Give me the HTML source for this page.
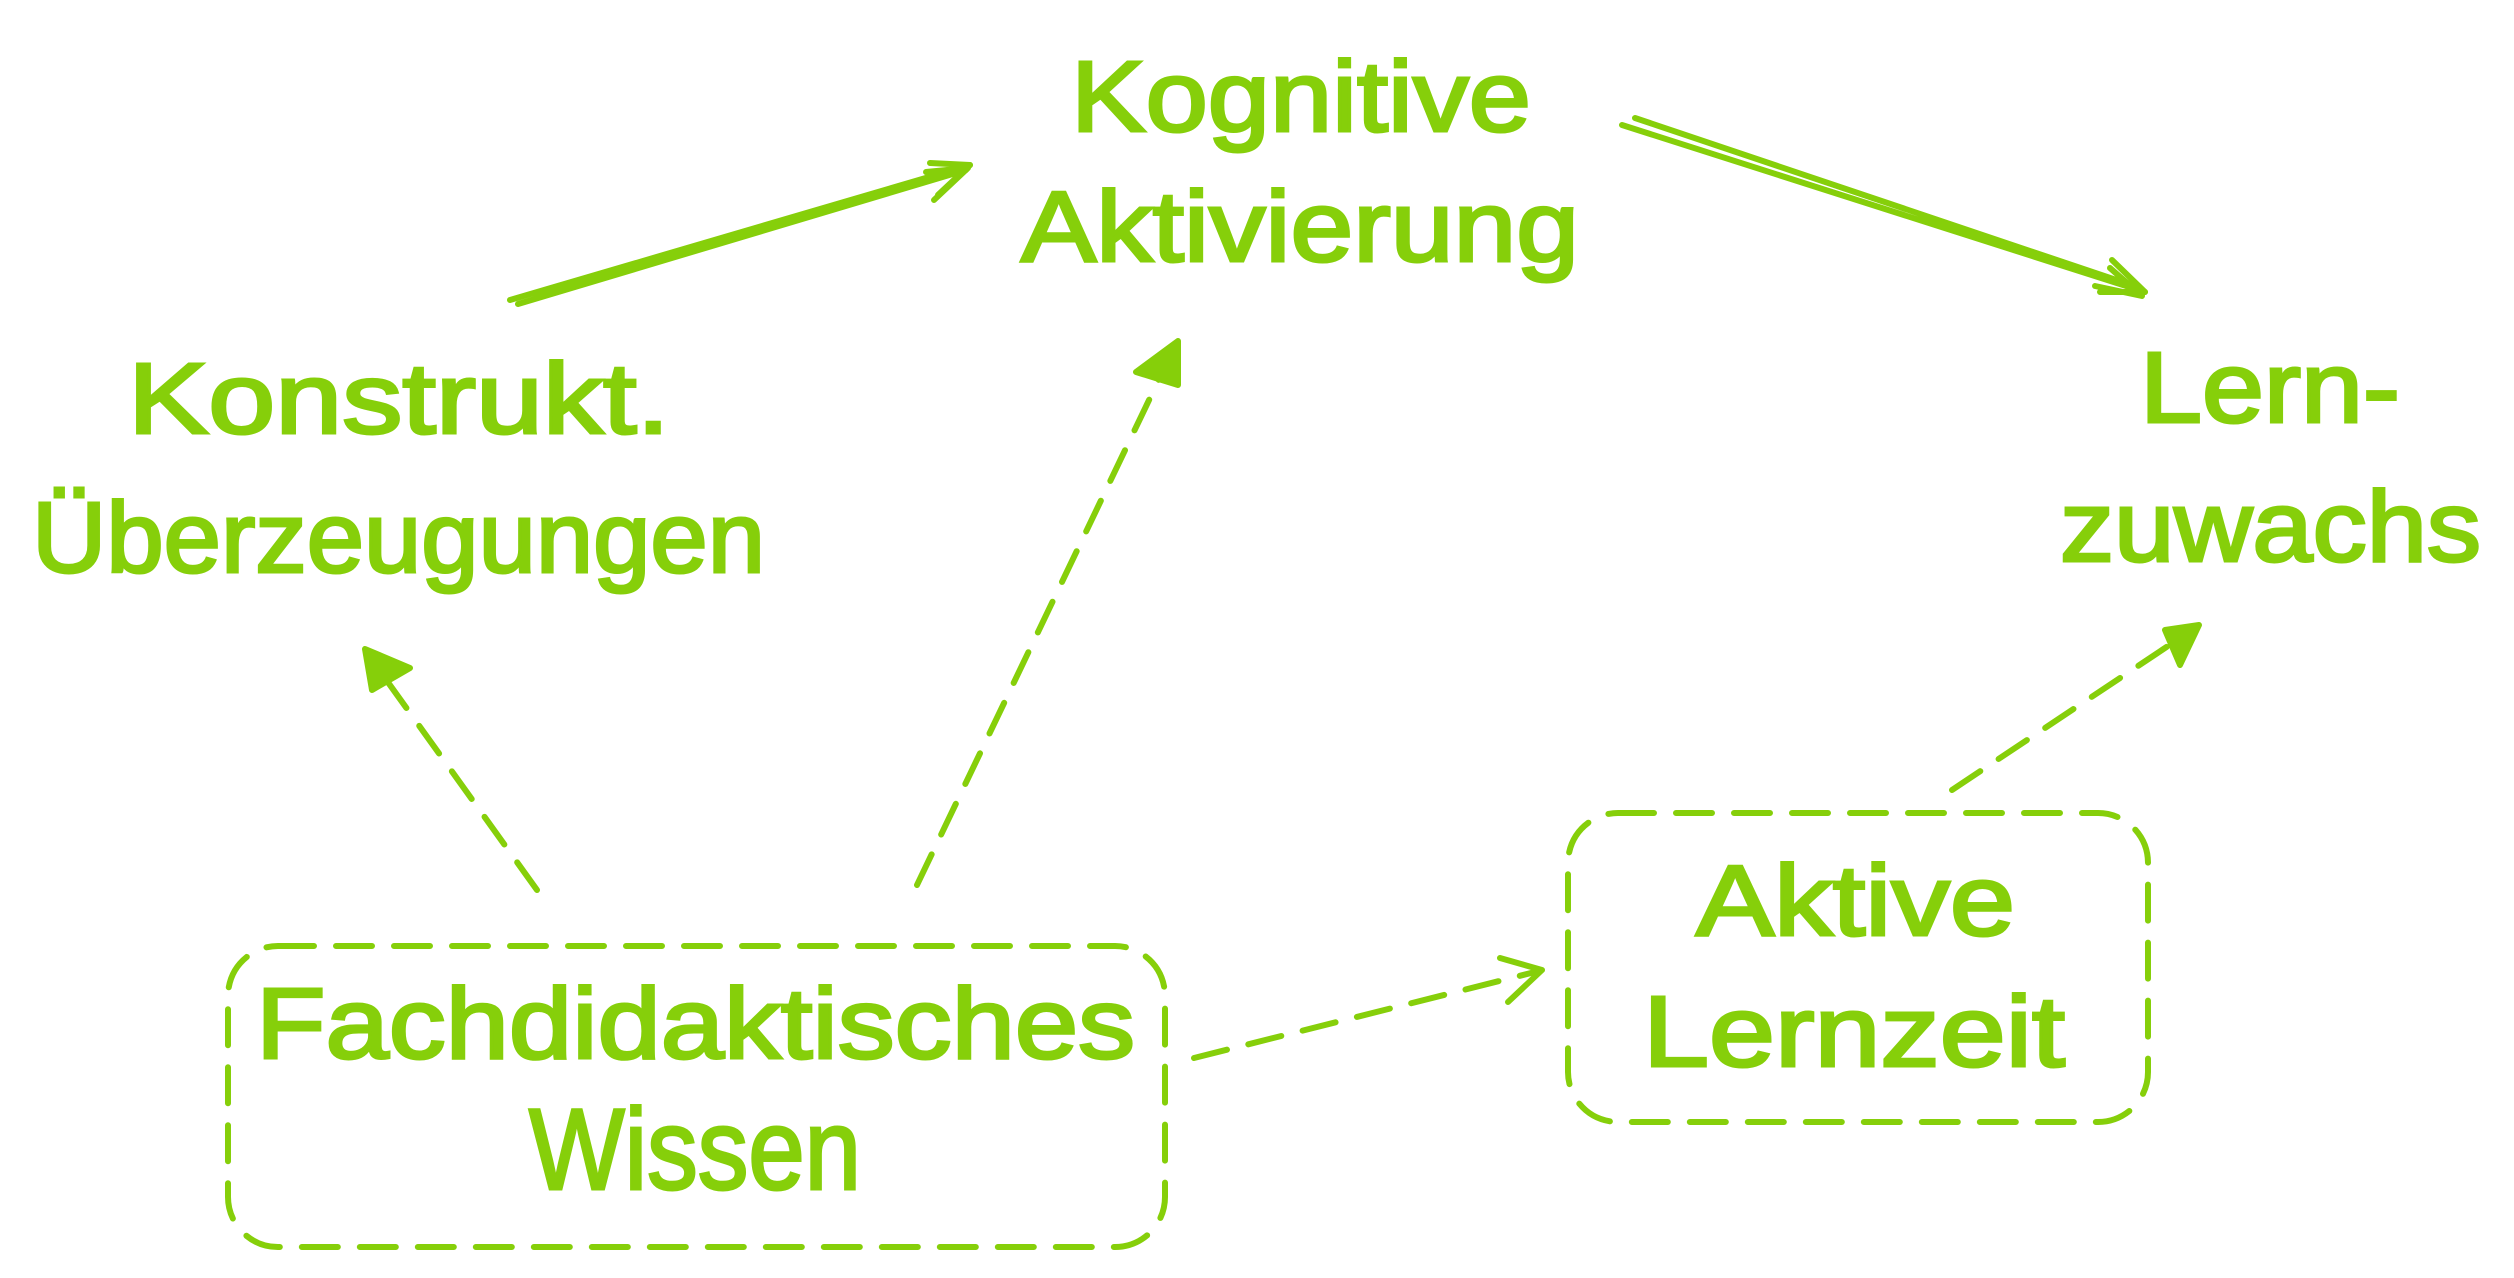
<!DOCTYPE html>
<html><head><meta charset="utf-8"><style>
html,body{margin:0;padding:0;background:#fff;}
svg{display:block;}
text{font-family:"Liberation Sans",sans-serif;fill:#86cf0a;stroke:#86cf0a;stroke-width:3px;font-size:100px;}
</style></head><body>
<svg width="2514" height="1278" viewBox="0 0 2514 1278" xmlns="http://www.w3.org/2000/svg">
<g fill="none" stroke="#86cf0a" stroke-width="6" stroke-linecap="round" stroke-linejoin="round">
  <path d="M510 300 L970 165 M518 304 L966 170"/>
  <path d="M930 163 L970 165 L938 195 M926 172 L968 168 L934 200"/>
  <path d="M1622 125 L2145 292 M1635 118 L2140 288"/>
  <path d="M2100 292 L2145 292 L2112 260 M2095 286 L2142 296 L2110 268"/>
  <g stroke-dasharray="34 22">
    <path d="M537 890 L372 660"/>
    <path d="M917 885 L1172 352"/>
    <path d="M1194 1058 L1535 972"/>
    <path d="M1952 790 L2195 628"/>
  </g>
  <path d="M372 690 L365 649 L410 668 Z" fill="#86cf0a"/>
  <path d="M1136 372 L1178 341 L1178 385 Z" fill="#86cf0a"/>
  <path d="M1500 958 L1542 970 L1508 1002"/>
  <path d="M2165 630 L2199 625 L2180 665 Z" fill="#86cf0a"/>
  <rect x="228" y="946" width="937" height="301" rx="50" stroke-dasharray="36 22"/>
  <rect x="1568" y="813" width="580" height="309" rx="50" stroke-dasharray="36 22"/>
</g>
<text x="1071" y="131" textLength="460" lengthAdjust="spacingAndGlyphs">Kognitive</text>
<text x="1021" y="261" textLength="558" lengthAdjust="spacingAndGlyphs">Aktivierung</text>
<text x="128" y="433" textLength="542" lengthAdjust="spacingAndGlyphs">Konstrukt.</text>
<text x="32" y="572" textLength="733" lengthAdjust="spacingAndGlyphs">Überzeugungen</text>
<text x="2140" y="422" textLength="260" lengthAdjust="spacingAndGlyphs">Lern-</text>
<text x="2060" y="561" textLength="421" lengthAdjust="spacingAndGlyphs">zuwachs</text>
<text x="256" y="1058" textLength="879" lengthAdjust="spacingAndGlyphs">Fachdidaktisches</text>
<text x="529" y="1189" textLength="332" lengthAdjust="spacingAndGlyphs" style="font-size:115px">Wissen</text>
<text x="1696" y="935" textLength="319" lengthAdjust="spacingAndGlyphs">Aktive</text>
<text x="1643" y="1066" textLength="422" lengthAdjust="spacingAndGlyphs">Lernzeit</text>
</svg>
</body></html>
